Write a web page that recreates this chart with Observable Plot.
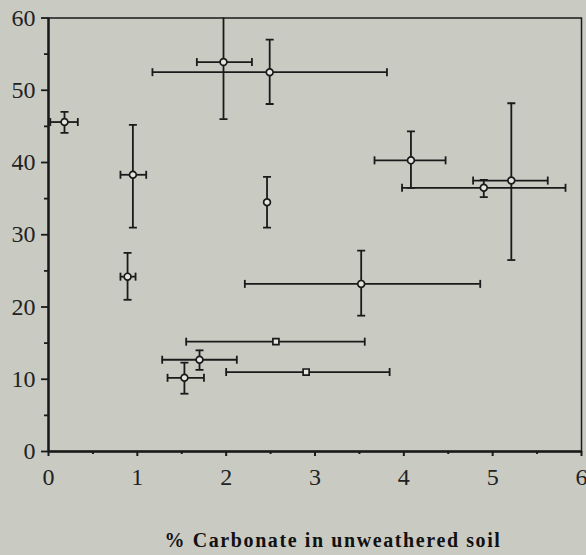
<!DOCTYPE html>
<html>
<head>
<meta charset="utf-8">
<script src="https://cdn.jsdelivr.net/npm/d3@7"></script>
<script src="https://cdn.jsdelivr.net/npm/@observablehq/plot@0.6"></script>
<style>
  html, body { margin: 0; padding: 0; background: #c9cbc3; }
  #chart { width: 586px; height: 555px; }
  #chart svg text { font-family: "Liberation Serif", "Times New Roman", Times, serif; }
</style>
</head>
<body>
<div id="chart"></div>
<script>
// Data
const xVal  = [0.18, 0.95, 1.97, 2.49, 2.46, 0.89, 4.08, 4.90, 5.21, 3.52, 2.56, 1.70, 1.53, 2.90];
const yVal  = [45.6, 38.3, 53.9, 52.5, 34.5, 24.2, 40.3, 36.5, 37.5, 23.2, 15.2, 12.7, 10.2, 11.0];
const xLow  = [0.02, 0.81, 1.67, 1.17, null, 0.81, 3.67, 3.98, 4.78, 2.21, 1.55, 1.28, 1.34, 2.00];
const xHigh = [0.33, 1.10, 2.29, 3.81, null, 0.98, 4.47, 5.82, 5.62, 4.86, 3.56, 2.12, 1.75, 3.84];
const yLow  = [44.1, 31.0, 46.0, 48.1, 31.0, 21.0, 36.5, 35.2, 26.5, 18.8, null, 11.3, 8.0, null];
const yHigh = [47.0, 45.2, 62.0, 57.0, 38.0, 27.5, 44.3, 37.6, 48.2, 27.8, null, 14.0, 12.3, null];
const shape = ["circle","circle","circle","circle","circle","circle","circle","circle","circle","circle","square","circle","circle","square"];

const xTicks = [0, 1, 2, 3, 4, 5, 6];
const xMinor = [0.5, 1.5, 2.5, 3.5, 4.5, 5.5];
const yTicks = [0, 10, 20, 30, 40, 50, 60];
const yMinor = [5, 15, 25, 35, 45, 55];
const xLabel = "% Carbonate in unweathered soil";

const rows = xVal.map((x, i) => ({
  x, y: yVal[i], xlo: xLow[i], xhi: xHigh[i], ylo: yLow[i], yhi: yHigh[i], shape: shape[i]
}));
const xErr = rows.filter(d => d.xlo != null);
const yErr = rows.filter(d => d.ylo != null);

const capV = {draw(ctx, size) { const h = Math.sqrt(size / Math.PI); ctx.moveTo(0, -h); ctx.lineTo(0, h); }};
const capH = {draw(ctx, size) { const h = Math.sqrt(size / Math.PI); ctx.moveTo(-h, 0); ctx.lineTo(h, 0); }};

const bg = "#c9cbc3";
const ink = "#1a1a1a";

const chart = Plot.plot({
  width: 586,
  height: 555,
  marginLeft: 48,
  marginRight: 5,
  marginTop: 17.5,
  marginBottom: 104,
  style: {background: bg, fontFamily: "'Liberation Serif', 'Times New Roman', serif", fontSize: "24px", color: ink},
  x: {domain: [0, 6]},
  y: {domain: [0, 60]},
  marks: [
    Plot.frame({stroke: ink, strokeWidth: 1.5}),
    Plot.ruleX([0], {stroke: ink, strokeWidth: 2.4}),
    Plot.ruleY([0], {stroke: ink, strokeWidth: 2.4}),
    Plot.axisX(xTicks, {tickSize: 5, tickPadding: 11, label: null, stroke: ink, strokeWidth: 2, fill: "#222", fontSize: 24, tickFormat: d => String(d)}),
    Plot.axisX(xMinor, {tickSize: 3, label: null, tickFormat: null, text: null, stroke: ink, strokeWidth: 2}),
    Plot.axisY(yTicks, {tickSize: 7, tickPadding: 6, label: null, stroke: ink, strokeWidth: 1.8, fill: "#222", fontSize: 24, tickFormat: d => String(d)}),
    Plot.axisY(yMinor, {tickSize: 4, label: null, tickFormat: null, text: null, stroke: ink, strokeWidth: 1.8}),
    // horizontal error bars
    Plot.ruleY(xErr, {y: "y", x1: "xlo", x2: "xhi", stroke: ink, strokeWidth: 1.8}),
    Plot.dot(xErr, {x: "xlo", y: "y", symbol: capV, r: 4, stroke: ink, strokeWidth: 1.8, fill: "none"}),
    Plot.dot(xErr, {x: "xhi", y: "y", symbol: capV, r: 4, stroke: ink, strokeWidth: 1.8, fill: "none"}),
    // vertical error bars
    Plot.ruleX(yErr, {x: "x", y1: "ylo", y2: "yhi", stroke: ink, strokeWidth: 1.8, clip: true}),
    Plot.dot(yErr, {x: "x", y: "ylo", symbol: capH, r: 4, stroke: ink, strokeWidth: 1.8, fill: "none", clip: true}),
    Plot.dot(yErr, {x: "x", y: "yhi", symbol: capH, r: 4, stroke: ink, strokeWidth: 1.8, fill: "none", clip: true}),
    // points
    Plot.dot(rows, {x: "x", y: "y", symbol: "shape", r: 3.4, stroke: ink, strokeWidth: 1.7, fill: "#e4e5df"}),
    // axis title
    Plot.text([xLabel], {frameAnchor: "bottom", dx: 18, dy: 89, lineAnchor: "middle", fontWeight: "bold", fontSize: 20, fill: "#111"})
  ]
});
document.getElementById("chart").appendChild(chart);
chart.querySelectorAll("text").forEach(t => { if (t.textContent === xLabel) t.setAttribute("letter-spacing", "1.6"); });
</script>
</body>
</html>
